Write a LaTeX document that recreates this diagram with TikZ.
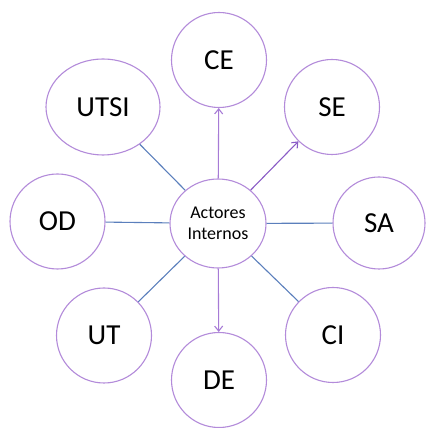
\documentclass[tikz,border=0pt]{standalone}
\usepackage{fontspec}
\setmainfont{Carlito}
\usetikzlibrary{shapes.geometric,arrows.meta}
\definecolor{ring}{HTML}{B38BDA}
\definecolor{plink}{HTML}{A77BD6}
\definecolor{pdark}{HTML}{8A5CC6}
\definecolor{blink}{HTML}{5B7FBC}
\tikzset{
  actor/.style={circle,draw=ring,line width=1.1pt,fill=white,minimum size=95pt,inner sep=0pt,font=\fontsize{29}{34}\selectfont},
  hub/.style={ellipse,draw=ring,line width=1.1pt,fill=white,minimum width=96pt,minimum height=89pt,inner sep=0pt,align=center,font=\fontsize{18}{21}\selectfont},
  plain/.style={draw=blink,line width=1.1pt},
  parrow/.style={draw=plink,line width=1.1pt,-{Straight Barb[length=5pt,width=8pt]}},
  darrow/.style={draw=pdark,line width=1.1pt,-{Straight Barb[length=5pt,width=8pt]}}
}
\begin{document}
\begin{tikzpicture}[x=1pt,y=1pt]
\useasboundingbox (0,0) rectangle (426,428);
\node[hub] (c) at (218,204.5) {Actores\\Internos};
\node[actor] (ce) at (219,368) {CE};
\node[actor] (se) at (332,321) {SE};
\node[actor,ellipse,minimum width=114pt,minimum height=96pt] (utsi) at (103,321) {UTSI};
\node[actor] (od) at (57.5,206.5) {OD};
\node[actor,minimum size=92pt] (sa) at (379,205) {SA};
\node[actor] (ut) at (104,92.5) {UT};
\node[actor] (de) at (219,48) {DE};
\node[actor] (ci) at (333,93) {CI};
\draw[parrow] (c) -- (ce);
\draw[darrow] (c) -- (se);
\draw[parrow] (c) -- (de);
\draw[plain] (c) -- (utsi);
\draw[plain] (c) -- (od);
\draw[plain] (c) -- (sa);
\draw[plain] (c) -- (ut);
\draw[plain] (c) -- (ci);
\end{tikzpicture}
\end{document}
